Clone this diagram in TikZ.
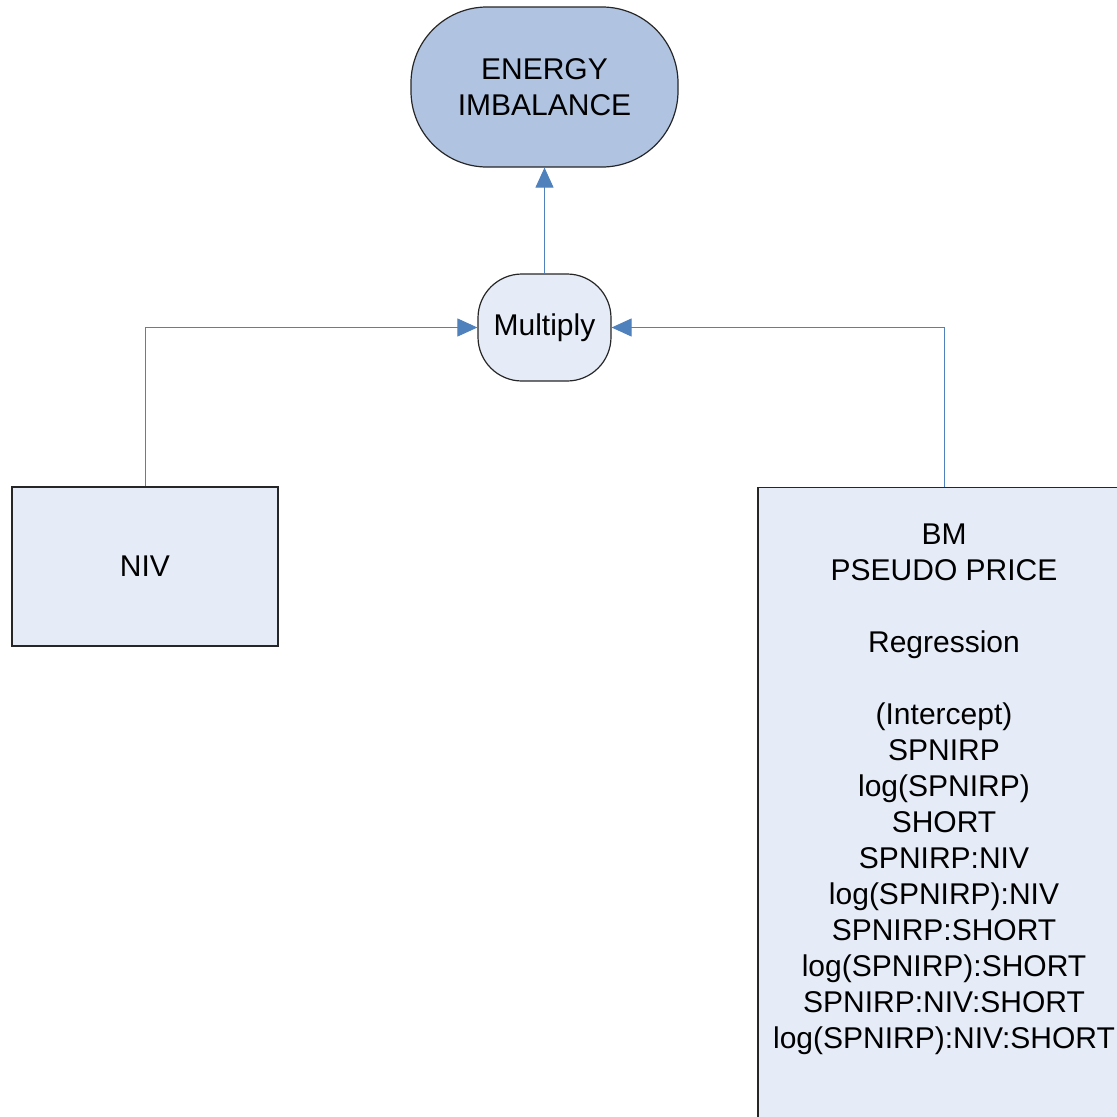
\documentclass[tikz,border=0pt]{standalone}
\usepackage{fontspec}
\setmainfont{Liberation Sans}
\usetikzlibrary{%
    arrows.meta,
    positioning
}
\definecolor{linkblue}{RGB}{79,129,189}
\definecolor{darkfill}{RGB}{176,196,226}
\definecolor{lightfill}{RGB}{230,236,247}
\tikzset{headarrow/.style = {-{Triangle[length=20pt,width=18pt]}, linkblue, line width=1pt}}
\tikzset{termbox/.style = {draw=black!85, line width=1.2pt, font=\fontsize{30}{36}\selectfont, align=center}}

\begin{document}
\begin{tikzpicture}[x=1pt,y=-1pt]
    \useasboundingbox (0,0) rectangle (1117,1117);
    \node (top) [termbox, fill=darkfill, rounded corners=76pt,
                 minimum width=267pt, minimum height=160pt] at (544.5,87) {ENERGY\\IMBALANCE};
    \node (mult) [termbox, fill=lightfill, rounded corners=44pt,
                  minimum width=133pt, minimum height=107pt] at (544.5,327.5) {Multiply};
    \node (niv) [termbox, fill=lightfill, rounded corners=0pt,
                 minimum width=266pt, minimum height=159pt] at (145,566.5) {NIV};
    \node (bm) [termbox, fill=lightfill, anchor=north,
                minimum width=372pt, minimum height=700pt] at (944,487) {};
    \node (bmtext) [termbox, draw=none, anchor=north, below=33pt of bm.north] {%
        BM\\
        PSEUDO PRICE\\[36pt]
        Regression\\[36pt]
        (Intercept)\\
        SPNIRP\\
        log(SPNIRP)\\
        SHORT\\
        SPNIRP:NIV\\
        log(SPNIRP):NIV\\
        SPNIRP:SHORT\\
        log(SPNIRP):SHORT\\
        SPNIRP:NIV:SHORT\\
        log(SPNIRP):NIV:SHORT};

    \draw[headarrow] (mult) to (top);
    \draw[headarrow] (niv.north) |- (mult.west);
    \draw[headarrow] (bm.north) |- (mult.east);
\end{tikzpicture}
\end{document}
